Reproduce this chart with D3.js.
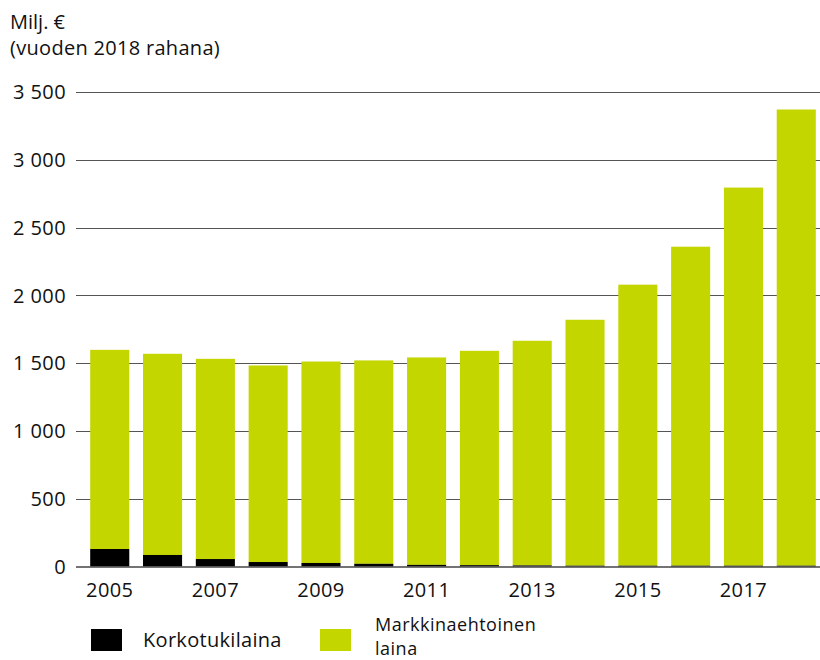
<!DOCTYPE html>
<html>
<head>
<meta charset="utf-8">
<script src="https://cdn.jsdelivr.net/npm/d3@7"></script>
<style>
  body { margin: 0; background: #fff; }
  svg { font-family: "Open Sans", "Noto Sans", sans-serif; }
</style>
</head>
<body>
<svg id="chart" width="820" height="660"></svg>
<script>
// years on the x axis
var years = [2005, 2006, 2007, 2008, 2009, 2010, 2011, 2012, 2013, 2014, 2015, 2016, 2017, 2018];
// interest-subsidised loans (black), milj. €
var korkotuki = [129, 85, 55, 33, 26, 20, 12, 10, 8, 6, 6, 6, 6, 6];
// market-based loans (green), milj. €
var markkina = [1469, 1484, 1477, 1450, 1486, 1500, 1530, 1581, 1657, 1814, 2073, 2353, 2789, 3365];
var yTicks = [0, 500, 1000, 1500, 2000, 2500, 3000, 3500];
var xLabels = [2005, 2007, 2009, 2011, 2013, 2015, 2017];

var FS = 20;
var svg = d3.select("#chart");

var x = d3.scaleBand()
    .domain(years)
    .range([77, 829])
    .paddingInner(0.26)
    .paddingOuter(0.25);

var y = d3.scaleLinear()
    .domain([0, 3500])
    .range([566.5, 92]);

var fmt = function (d) {
    return d3.format(",")(d).replace(/,/g, " ");
};

// gridlines
svg.append("g")
    .selectAll("line")
    .data(yTicks.slice(1))
    .join("line")
        .attr("x1", 76)
        .attr("x2", 820)
        .attr("y1", function (d) { return Math.round(y(d)) + 0.5; })
        .attr("y2", function (d) { return Math.round(y(d)) + 0.5; })
        .attr("stroke", "#555")
        .attr("stroke-width", 1);

// y tick labels
svg.append("g")
    .selectAll("text")
    .data(yTicks)
    .join("text")
        .attr("x", 66)
        .attr("y", function (d) { return y(d); })
        .attr("dy", "0.36em")
        .attr("text-anchor", "end")
        .attr("font-size", FS)
        .attr("letter-spacing", 0.4)
        .attr("fill", "#111")
        .text(fmt);

// stacked bars
var stack = years.map(function (yr, i) {
    return { year: yr, k: korkotuki[i], m: markkina[i] };
});

var bars = svg.append("g");
bars.selectAll("rect.m")
    .data(stack)
    .join("rect")
        .attr("class", "m")
        .attr("x", function (d) { return x(d.year); })
        .attr("width", x.bandwidth())
        .attr("y", function (d) { return y(d.k + d.m); })
        .attr("height", function (d) { return y(d.k) - y(d.k + d.m); })
        .attr("fill", "#c4d600");
bars.selectAll("rect.k")
    .data(stack)
    .join("rect")
        .attr("class", "k")
        .attr("x", function (d) { return x(d.year); })
        .attr("width", x.bandwidth())
        .attr("y", function (d) { return y(d.k); })
        .attr("height", function (d) { return y(0) - y(d.k); })
        .attr("fill", "#000");

// baseline
svg.append("line")
    .attr("x1", 76)
    .attr("x2", 820)
    .attr("y1", y(0) + 0.5)
    .attr("y2", y(0) + 0.5)
    .attr("stroke", "#444")
    .attr("stroke-width", 1.5);

// x labels
svg.append("g")
    .selectAll("text")
    .data(xLabels)
    .join("text")
        .attr("x", function (d) { return x(d) + x.bandwidth() / 2; })
        .attr("y", 597)
        .attr("text-anchor", "middle")
        .attr("font-size", FS)
        .attr("letter-spacing", 0.4)
        .attr("fill", "#111")
        .text(function (d) { return d; });

// unit title
svg.append("text")
    .attr("x", 10)
    .attr("y", 29)
    .attr("font-size", FS)
    .attr("fill", "#111")
    .text("Milj. €");
svg.append("text")
    .attr("x", 10)
    .attr("y", 55)
    .attr("font-size", FS)
    .attr("letter-spacing", 0.3)
    .attr("fill", "#111")
    .text("(vuoden 2018 rahana)");

// legend
var legend = svg.append("g");
legend.append("rect")
    .attr("x", 91).attr("y", 629).attr("width", 31).attr("height", 22)
    .attr("fill", "#000");
legend.append("text")
    .attr("x", 143).attr("y", 647)
    .attr("font-size", FS).attr("letter-spacing", 0.3).attr("fill", "#111")
    .text("Korkotukilaina");
legend.append("rect")
    .attr("x", 320).attr("y", 629).attr("width", 31).attr("height", 22)
    .attr("fill", "#c4d600");
legend.append("text")
    .attr("x", 375).attr("y", 631)
    .attr("font-size", 18).attr("letter-spacing", 0.5).attr("fill", "#111")
    .text("Markkinaehtoinen");
legend.append("text")
    .attr("x", 375).attr("y", 655)
    .attr("font-size", 18).attr("letter-spacing", 0.5).attr("fill", "#111")
    .text("laina");
</script>
</body>
</html>
